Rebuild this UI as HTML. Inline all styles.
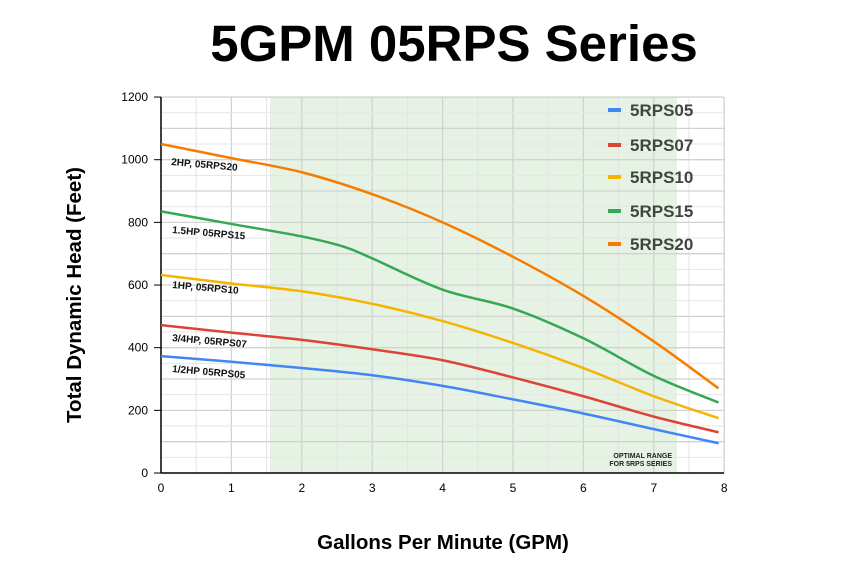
<!DOCTYPE html>
<html><head><meta charset="utf-8"><style>
html,body{margin:0;padding:0;background:#fff;width:864px;height:570px;overflow:hidden}
svg{display:block;font-family:"Liberation Sans",Arial,sans-serif}
</style></head><body>
<svg id="s" width="864" height="570" viewBox="0 0 864 570" xmlns="http://www.w3.org/2000/svg">
<text x="454" y="61" text-anchor="middle" font-size="51" font-weight="bold" fill="#000">5GPM 05RPS Series</text>
<rect x="270" y="97" width="407" height="376" fill="#e6f3e4"/>
<g id="grid"></g>
<line x1="161" y1="97" x2="161" y2="473" stroke="#000" stroke-width="1.5"/>
<line x1="161" y1="473" x2="724" y2="473" stroke="#000" stroke-width="1.5"/>
<g id="ticks" font-size="12" fill="#000"></g>
<g id="curves" fill="none" stroke-width="2.5"></g>
<g font-size="10" font-weight="bold" fill="#111">
<text transform="translate(171,165) rotate(5)">2HP, 05RPS20</text>
<text transform="translate(172,233) rotate(5)">1.5HP 05RPS15</text>
<text transform="translate(172,288) rotate(5)">1HP, 05RPS10</text>
<text transform="translate(172,341) rotate(5)">3/4HP, 05RPS07</text>
<text transform="translate(172,372) rotate(5)">1/2HP 05RPS05</text>
</g>
<g font-size="7" font-weight="bold" fill="#222" text-anchor="end">
<text x="672" y="458">OPTIMAL RANGE</text>
<text x="672" y="466">FOR 5RPS SERIES</text>
</g>
<g font-size="17" font-weight="bold" fill="#3e463e">
<rect x="608" y="108" width="13" height="4" fill="#4285f4"/><text x="630" y="116">5RPS05</text>
<rect x="608" y="143" width="13" height="4" fill="#db4437"/><text x="630" y="151">5RPS07</text>
<rect x="608" y="175" width="13" height="4" fill="#f4b400"/><text x="630" y="183">5RPS10</text>
<rect x="608" y="209" width="13" height="4" fill="#34a853"/><text x="630" y="217">5RPS15</text>
<rect x="608" y="242" width="13" height="4" fill="#f57c00"/><text x="630" y="250">5RPS20</text>
</g>
<text transform="translate(81,295) rotate(-90)" text-anchor="middle" font-size="20.5" font-weight="bold">Total Dynamic Head (Feet)</text>
<text x="443" y="549" text-anchor="middle" font-size="20.5" font-weight="bold">Gallons Per Minute (GPM)</text>
</svg>
<script>
var NS="http://www.w3.org/2000/svg";
function X(g){return 161+g*70.4}function Y(f){return 473-f*0.3133}
function el(n,a,p,t){var e=document.createElementNS(NS,n);for(var k in a)e.setAttribute(k,a[k]);if(t!=null)e.textContent=t;document.getElementById(p).appendChild(e);return e}
for(var i=1;i<=16;i++){el("line",{x1:X(i/2),y1:97,x2:X(i/2),y2:473,stroke:i%2?"#e3e3e3":"#cfd4cf","stroke-width":i%2?1:1.3},"grid")}
for(var j=1;j<=24;j++){el("line",{x1:161,y1:Y(j*50),x2:724,y2:Y(j*50),stroke:j%2?"#e6e6e6":"#cfd4cf","stroke-width":j%2?1:1.3},"grid")}
for(var i=0;i<=8;i++)el("text",{x:X(i),y:492,"text-anchor":"middle"},"ticks",i);
for(var j=0;j<=6;j++){el("text",{x:148,y:Y(j*200)+4,"text-anchor":"end"},"ticks",j*200);el("line",{x1:154,y1:Y(j*200),x2:161,y2:Y(j*200),stroke:"#000"},"ticks")}
var S=[
["#4285f4",[[0,373],[1,355],[2,335],[3,312],[4,278],[5,235],[6,190],[7,140],[7.92,95]]],
["#db4437",[[0,472],[1,448],[2,425],[3,395],[4,360],[5,305],[6,245],[7,180],[7.92,130]]],
["#f4b400",[[0,632],[1,605],[2,580],[3,540],[4,485],[5,415],[6,335],[7,245],[7.92,175]]],
["#34a853",[[0,835],[1,795],[2,755],[2.6,722],[3,685],[4,585],[5,525],[6,430],[7,310],[7.92,225]]],
["#f57c00",[[0,1050],[1,1005],[2,960],[3,890],[4,800],[5,690],[6,565],[7,420],[7.92,270]]]];
S.forEach(function(s){var p=s[1].map(function(q){return[X(q[0]),Y(q[1])]});var d="M"+p[0];
for(var i=0;i<p.length-1;i++){var a=p[i-1]||p[i],b=p[i],c=p[i+1],e=p[i+2]||c;
d+=" C"+(b[0]+(c[0]-a[0])/6)+","+(b[1]+(c[1]-a[1])/6)+" "+(c[0]-(e[0]-b[0])/6)+","+(c[1]-(e[1]-b[1])/6)+" "+c[0]+","+c[1];}
el("path",{d:d,stroke:s[0]},"curves")});
</script>
</body></html>
